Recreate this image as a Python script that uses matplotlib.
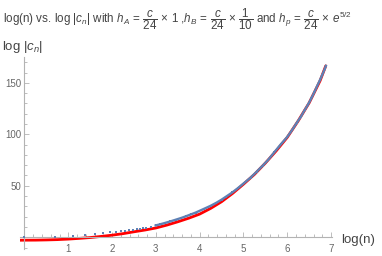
import numpy as np
import matplotlib
matplotlib.use("Agg")
import matplotlib.pyplot as plt
from matplotlib.ticker import MultipleLocator

plt.rcParams['font.family'] = ['Liberation Sans', 'DejaVu Sans']
plt.rcParams['mathtext.fontset'] = 'custom'
plt.rcParams['mathtext.rm'] = 'Liberation Sans'
plt.rcParams['mathtext.it'] = 'Liberation Sans:italic'

# blue points: log|c_n| read at selected n
blue_n = [1, 2, 3, 4, 5, 6, 7, 8, 9, 10, 11, 12, 13, 14, 15, 16, 18, 20, 22, 25,
          28, 32, 36, 40, 45, 50, 60, 70, 80, 90, 100, 115, 130, 150, 175, 200,
          230, 260, 300, 350, 400, 450, 500, 550, 600, 650, 700, 750, 800, 850,
          900, 950, 975]
blue_y = [0.5, 0.6, 1.5, 2.4, 3.3, 4.1, 4.8, 5.3, 5.8, 6.3, 6.8, 7.3, 7.8, 8.3,
          8.8, 9.3, 10.4, 11.5, 12.5, 14.0, 15.4, 17.2, 18.8, 20.4, 22.3, 24.0,
          27.5, 30.5, 33.5, 36.5, 39.5, 43.5, 47.5, 52.5, 58.0, 63.5, 69.5, 75.0,
          82.5, 90.5, 97.0, 104.0, 111.0, 117.0, 123.5, 129.0, 135.0, 141.0,
          147.0, 152.5, 158.0, 163.5, 166.5]

# red curve: asymptotic estimate
red_x = [-0.1, 0.0, 0.25, 0.5, 0.75, 1.0, 1.25, 1.5, 1.75, 2.0, 2.25, 2.5, 2.75,
         3.0, 3.25, 3.5, 3.75, 4.0, 4.25, 4.5, 4.75, 5.0, 5.25, 5.5, 5.75, 6.0,
         6.25, 6.5, 6.75, 6.88]
red_y = [-2.9, -2.85, -2.8, -2.6, -2.3, -1.8, -1.1, -0.3, 0.8, 2.0, 3.5, 5.3,
         7.0, 9.0, 11.8, 15.0, 18.5, 22.5, 28.0, 34.5, 42.5, 51.5, 61.0, 72.0,
         84.0, 97.0, 113.0, 130.5, 152.0, 166.5]

title = (r"log(n) vs. log $|c_n|$ with $h_A\,=\,\dfrac{c}{24}\,\times\,1$ ,"
         r"$h_B\,=\,\dfrac{c}{24}\,\times\,\dfrac{1}{10}$ and "
         r"$h_p\,=\,\dfrac{c}{24}\,\times\,e^{5/2}$")

fig = plt.figure(figsize=(3.82, 2.56), dpi=100)
ax = fig.add_axes([0.0526, 0.027, 0.8174, 0.75])

bx = np.log(blue_n)
by = np.array(blue_y)
ax.plot(red_x, red_y, color='#ff0000', lw=2.0, solid_capstyle='round', zorder=2)
ax.plot(bx[bx > 2.9], by[bx > 2.9], color='#5e81b5', lw=1.7, zorder=3)
ax.plot(bx, by, ls='none', marker='s', ms=1.8, mew=0, color='#5e81b5', zorder=3)

ax.set_xlim(-0.1, 7.03)
ax.set_ylim(-11.5, 175)
for s in ['top', 'right']:
    ax.spines[s].set_visible(False)
ax.spines['left'].set_position(('data', 0))
ax.spines['bottom'].set_position(('data', 0))
for s in ['left', 'bottom']:
    ax.spines[s].set_color('#b3b3b3')
    ax.spines[s].set_linewidth(0.8)

ax.xaxis.set_major_locator(MultipleLocator(1))
ax.xaxis.set_minor_locator(MultipleLocator(0.2))
ax.yaxis.set_major_locator(MultipleLocator(50))
ax.yaxis.set_minor_locator(MultipleLocator(10))
ax.set_xticks([1, 2, 3, 4, 5, 6, 7])
ax.set_yticks([50, 100, 150])
ax.tick_params(which='both', direction='in', color='#b3b3b3', labelcolor='#666666',
               labelsize=7, width=0.6)
ax.tick_params(which='major', length=3.5)
ax.tick_params(which='minor', length=2)
ax.tick_params(axis='x', pad=5)
ax.tick_params(axis='y', pad=2)

fig.text(0.008, 0.925, title, fontsize=8.4, color='#444444', va='center', ha='left')
fig.text(0.005, 0.818, r"log $|c_n|$", fontsize=9.5, color='#444444', va='center')
fig.text(0.893, 0.062, "log(n)", fontsize=9.5, color='#444444', va='center')

fig.savefig("out.png", dpi=100)
